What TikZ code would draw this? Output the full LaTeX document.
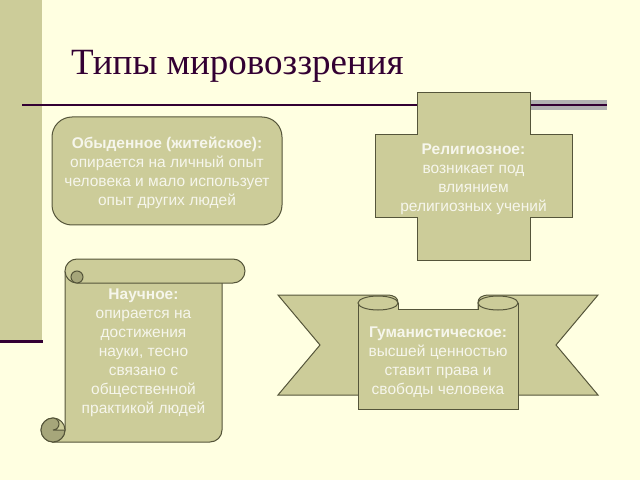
\documentclass[tikz,border=0pt]{standalone}
\usepackage{fontspec}
\setmainfont{Liberation Sans}
\newfontfamily\titlefont{Liberation Serif}
\usetikzlibrary{positioning}

\definecolor{bg}{RGB}{255,255,225}
\definecolor{khaki}{RGB}{204,204,153}
\definecolor{khakidark}{RGB}{166,166,122}
\definecolor{edge}{RGB}{85,85,58}
\definecolor{plum}{RGB}{51,0,51}
\definecolor{txt}{RGB}{246,246,236}

\begin{document}
\begin{tikzpicture}[x=1pt,y=1pt,
  pane/.style={fill=khaki,draw=edge,line width=1pt},
  curl/.style={fill=khakidark,draw=edge,line width=1pt},
  blurb/.style={text=txt,align=center,inner sep=0pt,
    font=\fontsize{15.5}{19}\selectfont}]

  \useasboundingbox (0,0) rectangle (640,480);
  \fill[bg] (0,0) rectangle (640,480);
  \fill[khaki] (0,140) rectangle (42,480);
  \draw[plum,line width=3pt] (0,139) -- (43,139);
  \fill[black!30] (530,370) rectangle (607,380);
  \draw[plum,line width=1.5pt] (22,375) -- (607,375);

  \node[anchor=base west,inner sep=0pt,text=plum,
        font=\titlefont\fontsize{37}{44}\selectfont] (title) at (71,405) {Типы мировоззрения};

  % обыденное
  \draw[pane,rounded corners=20pt] (52,255) rectangle (282,363);
  \node[blurb] (ord) at (167,307.5) {\textbf{Обыденное (житейское):}\\опирается на личный опыт\\человека и мало использует\\опыт других людей};

  % религиозное
  \draw[pane] (417,387) -- (530,387) -- (530,345) -- (572,345) -- (572,262) -- (530,262)
    -- (530,220) -- (417,220) -- (417,262) -- (375,262) -- (375,345) -- (417,345) -- cycle;
  \node[blurb] (rel) at (473.5,301) {\textbf{Религиозное:}\\возникает под\\влиянием\\религиозных учений};

  % научное
  \draw[pane] (65,209) -- (65,50) -- (53,38) -- (210,38) arc[start angle=-90,end angle=0,radius=12] -- (222,209);
  \draw[pane,rounded corners=12pt] (65,197) rectangle (245,221);
  \draw[curl] (77,203) circle[radius=6];
  \draw[pane] (53,50) circle[radius=12];
  \draw[curl] (65,50) arc[start angle=0,end angle=-270,radius=12]
    arc[start angle=90,end angle=-90,radius=6] -- cycle;
  \node[blurb] (sci) at (143.5,127) {\textbf{Научное:}\\опирается на\\достижения\\науки, тесно\\связано с\\общественной\\практикой людей};

  % гуманистическое
  \draw[pane] (278,185) -- (386,185) .. controls (395,185) and (398,182) .. (398,177)
    -- (398,85) -- (278,85) -- (320,135) -- cycle;
  \draw[pane] (598,185) -- (490,185) .. controls (481,185) and (478,182) .. (478,177)
    -- (478,85) -- (598,85) -- (556,135) -- cycle;
  \draw[pane] (358,177) -- (358,71) -- (518,71) -- (518,177) -- (478,177) -- (478,171)
    -- (398,171) -- (398,177) -- cycle;
  \draw[pane] (378,177) ellipse[x radius=20,y radius=7];
  \draw[pane] (498,177) ellipse[x radius=20,y radius=7];
  \node[blurb] (hum) at (438,118) {\textbf{Гуманистическое:}\\высшей ценностью\\ставит права и\\свободы человека};
\end{tikzpicture}
\end{document}
